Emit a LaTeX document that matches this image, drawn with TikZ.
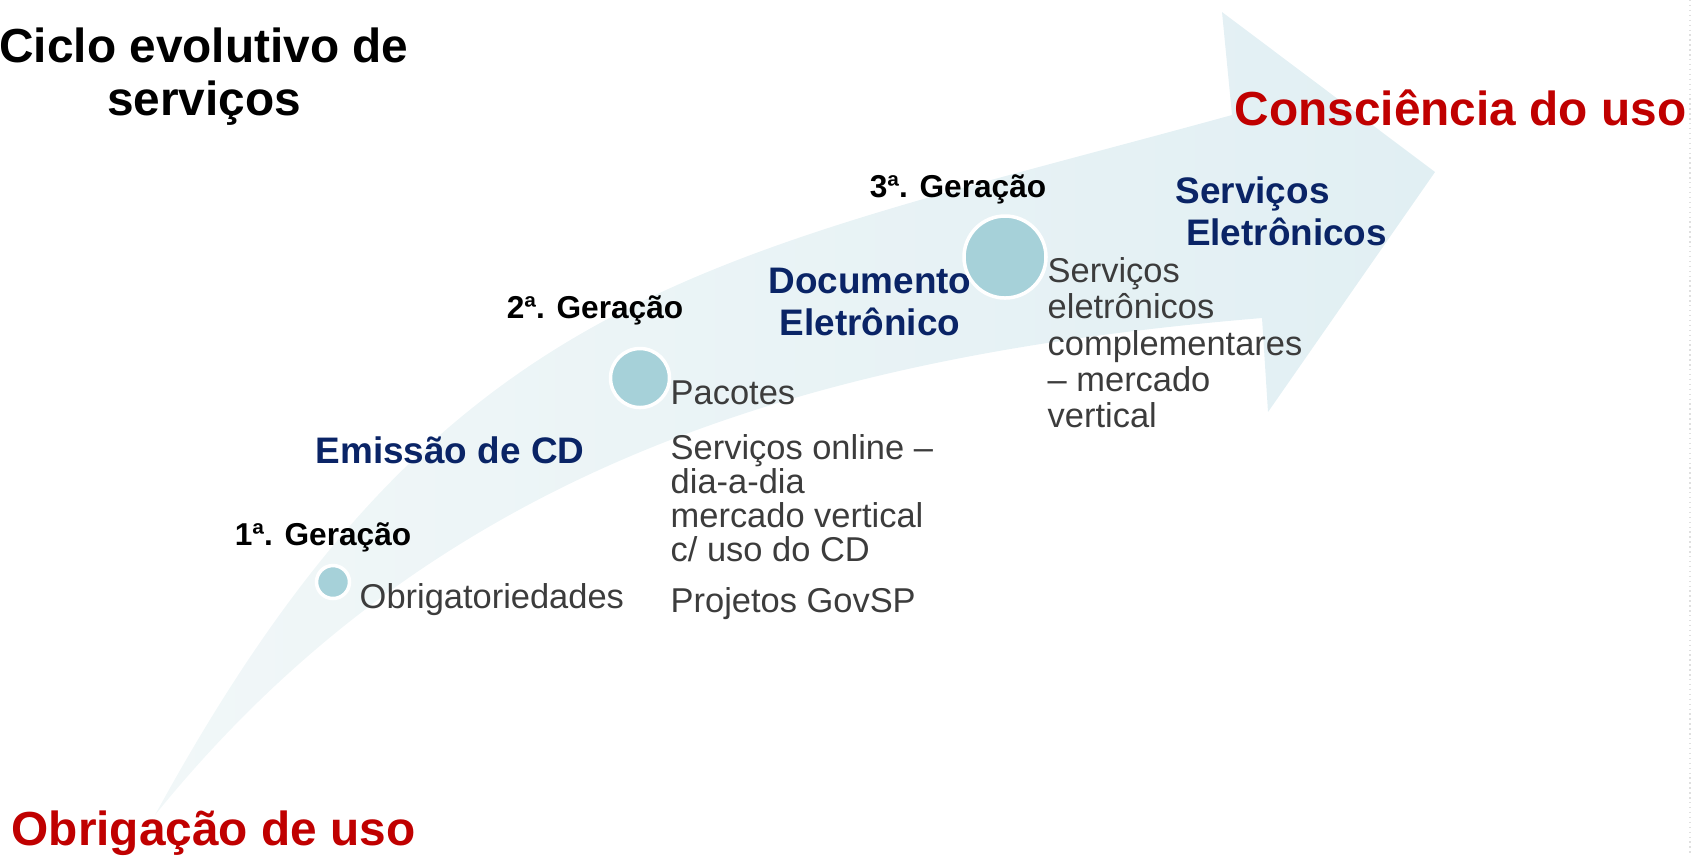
\documentclass[tikz,border=0pt]{standalone}
\usepackage{fontspec}
\setmainfont{Liberation Sans}
\definecolor{bandL}{RGB}{241,247,248}
\definecolor{bandR}{RGB}{225,239,243}
\definecolor{dotc}{RGB}{166,209,217}
\definecolor{redtxt}{RGB}{192,0,0}
\definecolor{bluetxt}{RGB}{10,36,102}
\definecolor{graytxt}{RGB}{60,60,60}

\begin{document}
\begin{tikzpicture}
  \tikzstyle{ttl}=[inner sep=0pt, font=\bfseries\fontsize{13.6}{15}\selectfont]
  \tikzstyle{pole}=[ttl, text=redtxt]
  \tikzstyle{stage}=[inner sep=0pt, text=bluetxt, font=\bfseries\fontsize{10.5}{12}\selectfont]
  \tikzstyle{gen}=[inner sep=0pt, font=\bfseries\fontsize{9}{10}\selectfont]
  \tikzstyle{item}=[inner sep=0pt, text=graytxt, align=left,
                    font=\fontsize{9.8}{9.7}\selectfont]
  \tikzstyle{dot}=[circle, fill=dotc, draw=white, line width=1pt, inner sep=0pt]

  \useasboundingbox (0,0) rectangle (16.95,-8.56);

  % --- seta curva ---
  \shade[left color=bandL, right color=bandR]
    (1.55,-8.15) .. controls (4.43,-2.87) and (7.01,-2.61) .. (12.32,-1.15)
    -- (12.22,-0.12) -- (14.35,-1.72) -- (12.68,-4.12) -- (12.62,-3.18)
    .. controls (8.17,-3.55) and (4.39,-4.64) .. (1.55,-8.15) -- cycle;
  \draw[gray!25, densely dotted] (16.90,0) -- (16.90,-8.56);

  % --- titulos ---
  \node[ttl, align=center, anchor=north] (title) at (2.04,-0.27)
    {Ciclo evolutivo de\\serviços};
  \node[pole, anchor=base east] (consc) at (16.87,-1.25) {Consciência do uso};
  \node[pole, anchor=base west] (obrig) at (0.11,-8.45) {Obrigação de uso};

  % --- etapas ---
  \node[stage, anchor=base] (emis) at (4.50,-4.63) {Emissão de CD};
  \node[stage, align=center, anchor=north] (doc) at (8.70,-2.67)
    {Documento\\Eletrônico};
  \node[stage, align=left, anchor=north west] (serv) at (11.75,-1.76)
    {Serviços\\\hspace*{0.28em}Eletrônicos};

  % --- geracoes ---
  \node[dot, minimum size=0.33cm] (c1) at (3.33,-5.82) {};
  \node[dot, minimum size=0.59cm] (c2) at (6.40,-3.78) {};
  \node[dot, minimum size=0.82cm] (c3) at (10.05,-2.57) {};
  \node[gen, anchor=base] (ger1) at (3.23,-5.45) {1ª. Geração};
  \node[gen, anchor=base] (ger2) at (5.95,-3.18) {2ª. Geração};
  \node[gen, anchor=base] (ger3) at (9.58,-1.97) {3ª. Geração};

  \node[item, anchor=base west] (txt1) at (3.59,-6.08) {Obrigatoriedades};
  \node[item, anchor=north west] (txt2) at (6.70,-3.80)
    {Pacotes\\[6pt]Serviços online –\\dia-a-dia\\mercado vertical\\c/ uso do CD\\[4.8pt]Projetos GovSP};
  \node[item, anchor=north west, font=\fontsize{9.8}{10.3}\selectfont] (txt3) at (10.47,-2.57)
    {Serviços\\eletrônicos\\complementares\\– mercado\\vertical};
\end{tikzpicture}
\end{document}
